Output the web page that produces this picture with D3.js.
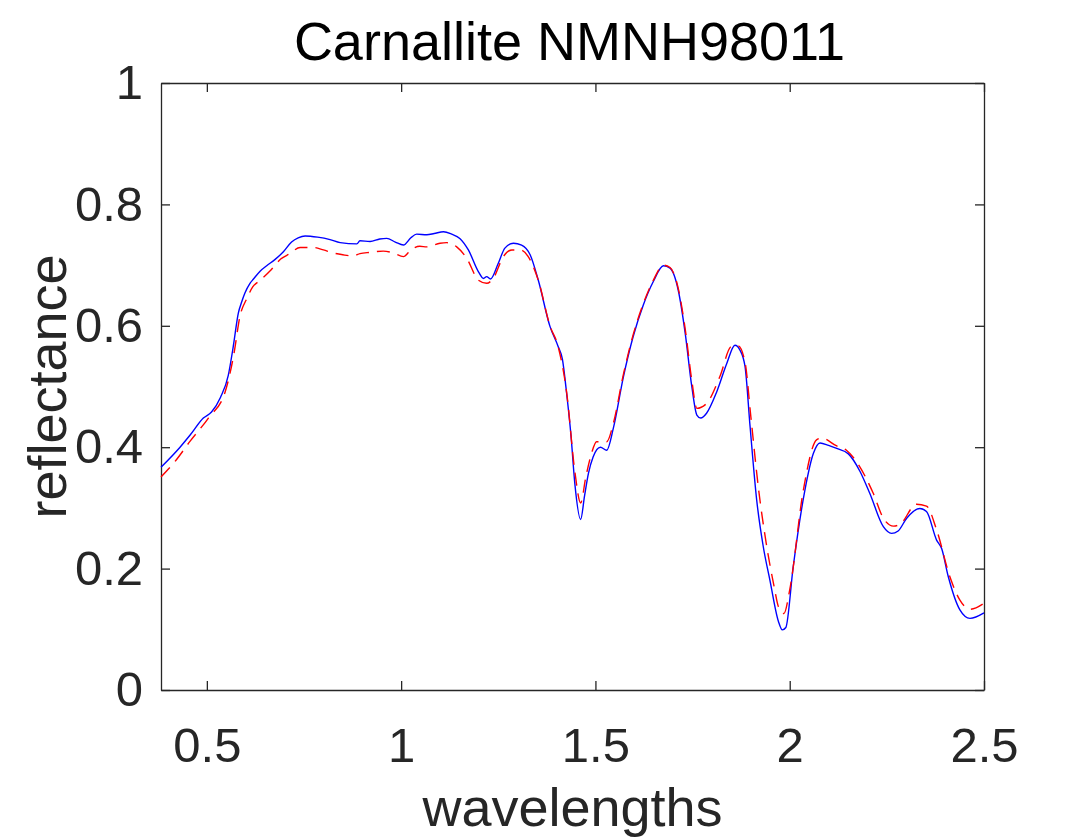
<!DOCTYPE html>
<html>
<head>
<meta charset="utf-8">
<script src="https://cdn.jsdelivr.net/npm/d3@7"></script>
<style>
  body { margin: 0; background: #fff; }
  text { font-family: "Liberation Sans", Arial, sans-serif; }
</style>
</head>
<body>
<script>
// spectrum samples (wavelength in micrometres, reflectance)
const blueWave = [0.382, 0.431, 0.457, 0.491, 0.512, 0.535, 0.555, 0.568, 0.581, 0.590, 0.598, 0.611, 0.620, 0.637, 0.654, 0.675, 0.697, 0.718, 0.735, 0.753, 0.785, 0.817, 0.843, 0.886, 0.894, 0.920, 0.945, 0.963, 0.985, 1.006, 1.025, 1.040, 1.066, 1.085, 1.109, 1.130, 1.151, 1.173, 1.199, 1.212, 1.220, 1.230, 1.250, 1.267, 1.289, 1.310, 1.332, 1.353, 1.383, 1.404, 1.415, 1.426, 1.437, 1.447, 1.462, 1.472, 1.482, 1.494, 1.513, 1.529, 1.546, 1.572, 1.597, 1.623, 1.649, 1.675, 1.692, 1.713, 1.731, 1.748, 1.761, 1.771, 1.786, 1.812, 1.838, 1.859, 1.872, 1.885, 1.898, 1.915, 1.932, 1.949, 1.971, 1.981, 1.990, 2.009, 2.039, 2.061, 2.078, 2.100, 2.121, 2.151, 2.181, 2.206, 2.241, 2.262, 2.279, 2.301, 2.335, 2.352, 2.378, 2.391, 2.408, 2.438, 2.464, 2.500];
const blueRefl = [0.367, 0.400, 0.420, 0.448, 0.458, 0.482, 0.518, 0.566, 0.621, 0.640, 0.654, 0.670, 0.677, 0.690, 0.699, 0.709, 0.722, 0.738, 0.745, 0.748, 0.746, 0.742, 0.737, 0.735, 0.740, 0.739, 0.743, 0.744, 0.738, 0.733, 0.745, 0.751, 0.750, 0.752, 0.755, 0.751, 0.744, 0.725, 0.689, 0.678, 0.681, 0.677, 0.703, 0.728, 0.736, 0.733, 0.717, 0.675, 0.599, 0.566, 0.545, 0.488, 0.420, 0.340, 0.281, 0.320, 0.357, 0.384, 0.400, 0.395, 0.431, 0.516, 0.582, 0.634, 0.673, 0.699, 0.695, 0.659, 0.588, 0.500, 0.453, 0.448, 0.456, 0.491, 0.538, 0.568, 0.560, 0.533, 0.434, 0.313, 0.236, 0.181, 0.113, 0.099, 0.103, 0.203, 0.329, 0.390, 0.407, 0.403, 0.398, 0.389, 0.360, 0.324, 0.269, 0.258, 0.262, 0.283, 0.299, 0.294, 0.247, 0.233, 0.187, 0.132, 0.118, 0.127];

const redWave = [0.382, 0.420, 0.457, 0.504, 0.547, 0.570, 0.585, 0.603, 0.618, 0.637, 0.665, 0.690, 0.714, 0.740, 0.774, 0.800, 0.825, 0.850, 0.877, 0.894, 0.920, 0.954, 0.980, 1.006, 1.025, 1.048, 1.066, 1.100, 1.117, 1.143, 1.169, 1.199, 1.220, 1.237, 1.263, 1.285, 1.306, 1.327, 1.353, 1.383, 1.404, 1.426, 1.447, 1.462, 1.475, 1.490, 1.503, 1.529, 1.546, 1.572, 1.597, 1.623, 1.649, 1.675, 1.692, 1.713, 1.731, 1.748, 1.761, 1.786, 1.820, 1.850, 1.867, 1.885, 1.900, 1.920, 1.940, 1.960, 1.971, 1.985, 2.000, 2.035, 2.069, 2.082, 2.121, 2.146, 2.172, 2.215, 2.241, 2.267, 2.284, 2.326, 2.352, 2.378, 2.412, 2.438, 2.464, 2.500];
const redRefl = [0.351, 0.378, 0.410, 0.448, 0.491, 0.555, 0.615, 0.645, 0.664, 0.675, 0.692, 0.710, 0.719, 0.729, 0.729, 0.725, 0.720, 0.717, 0.715, 0.719, 0.721, 0.723, 0.720, 0.714, 0.725, 0.731, 0.730, 0.736, 0.737, 0.730, 0.711, 0.675, 0.670, 0.678, 0.714, 0.725, 0.725, 0.714, 0.675, 0.600, 0.566, 0.490, 0.360, 0.308, 0.350, 0.390, 0.409, 0.409, 0.439, 0.520, 0.585, 0.636, 0.675, 0.700, 0.696, 0.662, 0.595, 0.510, 0.464, 0.472, 0.516, 0.566, 0.567, 0.540, 0.450, 0.330, 0.240, 0.170, 0.137, 0.126, 0.165, 0.329, 0.412, 0.415, 0.402, 0.395, 0.376, 0.324, 0.283, 0.270, 0.273, 0.306, 0.303, 0.264, 0.187, 0.148, 0.133, 0.143];

const xTicks = [0.5, 1, 1.5, 2, 2.5];
const yTicks = [0, 0.2, 0.4, 0.6, 0.8, 1];
const titleText = "Carnallite NMNH98011";

// size of the picture and the plot box
const w = 1088, h = 840;
const plotLeft = 161, plotRight = 984, plotTop = 83, plotBottom = 690;
const axisColor = "#262626";

const svg = d3.select("body").append("svg")
    .attr("width", w)
    .attr("height", h);

svg.append("rect").attr("width", w).attr("height", h).attr("fill", "#fff");

const x = d3.scaleLinear().domain([0.382, 2.5]).range([plotLeft, plotRight]);
const y = d3.scaleLinear().domain([0, 1]).range([plotBottom, plotTop]);

// axes, ticks pointing inwards like matlab
function styleAxis(g) {
    g.selectAll("path").attr("stroke", axisColor).attr("stroke-width", 1.3);
    g.selectAll("line").attr("stroke", axisColor).attr("stroke-width", 1.3);
    g.selectAll("text").attr("fill", axisColor).style("font-size", "49px");
}

svg.append("g")
    .attr("transform", `translate(0,${plotBottom})`)
    .call(d3.axisBottom(x).tickValues(xTicks).tickFormat(d3.format("")).tickSizeInner(-9).tickSizeOuter(0).tickPadding(37))
    .call(styleAxis);

svg.append("g")
    .attr("transform", `translate(0,${plotTop})`)
    .call(d3.axisTop(x).tickValues(xTicks).tickFormat("").tickSizeInner(-9).tickSizeOuter(0))
    .call(styleAxis);

svg.append("g")
    .attr("transform", `translate(${plotLeft},0)`)
    .call(d3.axisLeft(y).tickValues(yTicks).tickFormat(d3.format("")).tickSizeInner(-9).tickSizeOuter(0).tickPadding(18))
    .call(styleAxis);

svg.append("g")
    .attr("transform", `translate(${plotRight},0)`)
    .call(d3.axisRight(y).tickValues(yTicks).tickFormat("").tickSizeInner(-9).tickSizeOuter(0))
    .call(styleAxis);

// the two spectra
const line = d3.line()
    .x(d => x(d[0]))
    .y(d => y(d[1]))
    .curve(d3.curveMonotoneX);

const blueData = d3.zip(blueWave, blueRefl);
const redData = d3.zip(redWave, redRefl);

svg.append("path")
    .datum(blueData)
    .attr("d", line)
    .attr("fill", "none")
    .attr("stroke", "#0000ff")
    .attr("stroke-width", 1.4);

svg.append("path")
    .datum(redData)
    .attr("d", line)
    .attr("fill", "none")
    .attr("stroke", "#ff0000")
    .attr("stroke-width", 1.4)
    .attr("stroke-dasharray", "13,8");

// title and axis labels
svg.append("text")
    .attr("x", (plotLeft + plotRight) / 2 - 3)
    .attr("y", 60)
    .attr("text-anchor", "middle")
    .style("font-size", "54px")
    .attr("fill", "#000")
    .text(titleText);

svg.append("text")
    .attr("x", (plotLeft + plotRight) / 2)
    .attr("y", 826)
    .attr("text-anchor", "middle")
    .style("font-size", "54px")
    .attr("fill", axisColor)
    .text("wavelengths");

svg.append("text")
    .attr("transform", `translate(66,${(plotTop + plotBottom) / 2}) rotate(-90)`)
    .attr("text-anchor", "middle")
    .style("font-size", "54px")
    .attr("fill", axisColor)
    .text("reflectance");
</script>
</body>
</html>
